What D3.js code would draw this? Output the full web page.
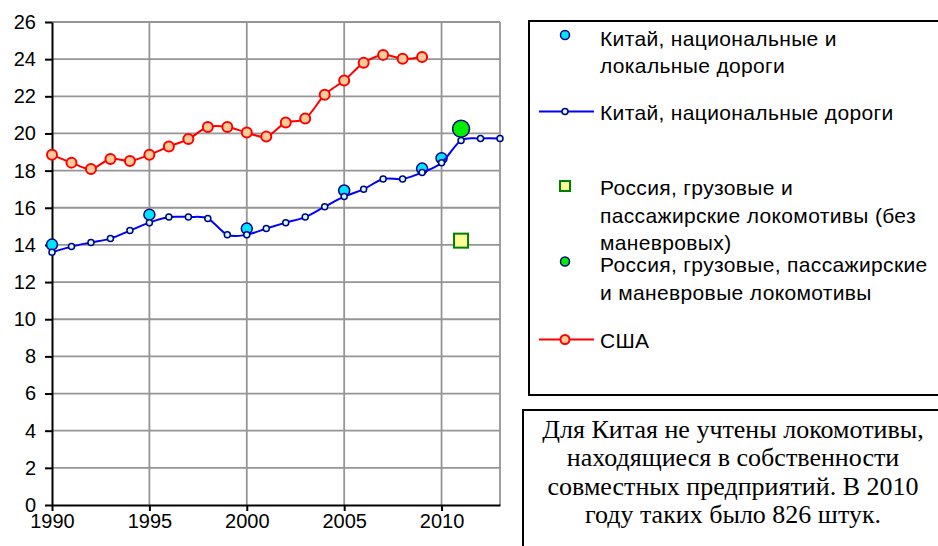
<!DOCTYPE html>
<html>
<head>
<meta charset="utf-8">
<script src="https://cdn.jsdelivr.net/npm/d3@7"></script>
<style>
  body { margin: 0; background: #fff; }
  svg { display: block; font-family: "Liberation Sans", Arial, sans-serif; }
</style>
</head>
<body>
<div id="chart"></div>
<script>
// data
var usaYears = [1990, 1991, 1992, 1993, 1994, 1995, 1996, 1997, 1998, 1999, 2000, 2001, 2002, 2003, 2004, 2005, 2006, 2007, 2008, 2009]
var usaValues = [18.85, 18.43, 18.09, 18.63, 18.52, 18.85, 19.3, 19.7, 20.35, 20.35, 20.05, 19.83, 20.59, 20.8, 22.08, 22.85, 23.8, 24.23, 24.02, 24.12]

var chinaYears = [1990, 1991, 1992, 1993, 1994, 1995, 1996, 1997, 1998, 1999, 2000, 2001, 2002, 2003, 2004, 2005, 2006, 2007, 2008, 2009, 2010, 2011, 2012, 2013]
var chinaNational = [13.6, 13.91, 14.13, 14.34, 14.77, 15.2, 15.5, 15.5, 15.42, 14.55, 14.55, 14.88, 15.2, 15.5, 16.06, 16.6, 17.0, 17.55, 17.55, 17.9, 18.42, 19.62, 19.73, 19.73]

var chinaAllYears = [1990, 1995, 2000, 2005, 2009, 2010]
var chinaAllValues = [14.02, 15.63, 14.88, 16.93, 18.11, 18.67]

var russiaYears = [2011]
var russiaNoShunting = [14.23]
var russiaAll = [20.25]

var xTicks = [1990, 1995, 2000, 2005, 2010]
var xGrid = [1995, 2000, 2005, 2010, 2013]
var yTicks = [0, 2, 4, 6, 8, 10, 12, 14, 16, 18, 20, 22, 24, 26]

var legendLabels = [
  ["Китай, национальные и", "локальные дороги"],
  ["Китай, национальные дороги"],
  ["Россия, грузовые и", "пассажирские локомотивы (без", "маневровых)"],
  ["Россия, грузовые, пассажирские", "и маневровые локомотивы"],
  ["США"]
]
var noteLines = [
  "Для Китая не учтены локомотивы,",
  "находящиеся в собственности",
  "совместных предприятий. В 2010",
  "году таких было 826 штук."
]

// SVG setup
var W = 938, H = 546
var plot = {left: 52, top: 22, right: 500, bottom: 505}

var svg = d3.select("#chart").append("svg")
    .attr("width", W)
    .attr("height", H)

var x = d3.scaleLinear().domain([1990, 2013]).range([plot.left, plot.right])
var y = d3.scaleLinear().domain([0, 26]).range([plot.bottom, plot.top])

// grid
svg.append("g").selectAll("line")
  .data(yTicks.slice(1))
  .enter().append("line")
  .attr("x1", plot.left).attr("x2", plot.right)
  .attr("y1", d => y(d)).attr("y2", d => y(d))
  .attr("stroke", "#959595").attr("stroke-width", 1.8)

svg.append("g").selectAll("line")
  .data(xGrid)
  .enter().append("line")
  .attr("x1", d => x(d)).attr("x2", d => x(d))
  .attr("y1", plot.top).attr("y2", plot.bottom)
  .attr("stroke", "#959595").attr("stroke-width", 1.8)

// axes
var yAxis = d3.axisLeft(y).tickValues(yTicks).tickSize(7).tickSizeOuter(0).tickPadding(9)
var xAxis = d3.axisBottom(x).tickValues(xTicks).tickFormat(d3.format("d"))
    .tickSize(6).tickSizeOuter(0).tickPadding(3)

var gy = svg.append("g").attr("transform", "translate(" + plot.left + ",0)").call(yAxis)
var gx = svg.append("g").attr("transform", "translate(0," + plot.bottom + ")").call(xAxis)

;[gx, gy].forEach(g => {
  g.select(".domain").attr("stroke", "#000").attr("stroke-width", 2)
  g.selectAll(".tick line").attr("stroke", "#000").attr("stroke-width", 2)
  g.selectAll(".tick text")
    .attr("fill", "#000")
    .style("font-family", "'Liberation Sans', Arial, sans-serif")
    .style("font-size", "20px")
})

var line = d3.line()
  .x(d => x(d[0]))
  .y(d => y(d[1]))
  .curve(d3.curveCardinal.tension(0))

// China national + local
svg.append("g").selectAll("circle")
  .data(d3.zip(chinaAllYears, chinaAllValues))
  .enter().append("circle")
  .attr("cx", d => x(d[0])).attr("cy", d => y(d[1]))
  .attr("r", 5.5)
  .attr("fill", "#00e5ff").attr("stroke", "#000080").attr("stroke-width", 1.5)

// Russia without shunting
svg.append("g").selectAll("rect")
  .data(d3.zip(russiaYears, russiaNoShunting))
  .enter().append("rect")
  .attr("x", d => x(d[0]) - 7).attr("y", d => y(d[1]) - 7)
  .attr("width", 14).attr("height", 14)
  .attr("fill", "#ffff99").attr("stroke", "#008000").attr("stroke-width", 2)

// Russia all
svg.append("g").selectAll("circle")
  .data(d3.zip(russiaYears, russiaAll))
  .enter().append("circle")
  .attr("cx", d => x(d[0])).attr("cy", d => y(d[1]))
  .attr("r", 8.5)
  .attr("fill", "#00ee00").attr("stroke", "#000080").attr("stroke-width", 1.5)

// China national
var chinaData = d3.zip(chinaYears, chinaNational)
svg.append("path")
  .datum(chinaData)
  .attr("d", line)
  .attr("fill", "none").attr("stroke", "#0000ff").attr("stroke-width", 2)
svg.append("g").selectAll("circle")
  .data(chinaData)
  .enter().append("circle")
  .attr("cx", d => x(d[0])).attr("cy", d => y(d[1]))
  .attr("r", 3)
  .attr("fill", "#ccffff").attr("stroke", "#000080").attr("stroke-width", 1.5)

// USA
var usaData = d3.zip(usaYears, usaValues)
svg.append("path")
  .datum(usaData)
  .attr("d", line)
  .attr("fill", "none").attr("stroke", "#ff0000").attr("stroke-width", 2)
svg.append("g").selectAll("circle")
  .data(usaData)
  .enter().append("circle")
  .attr("cx", d => x(d[0])).attr("cy", d => y(d[1]))
  .attr("r", 5)
  .attr("fill", "#ffcc99").attr("stroke", "#ff0000").attr("stroke-width", 2)

// legend
var lg = svg.append("g")
lg.append("rect")
  .attr("x", 529).attr("y", 21).attr("width", 420).attr("height", 374)
  .attr("fill", "#fff").attr("stroke", "#000").attr("stroke-width", 2)

var legendY = [45.5, 120, 195, 272, 348]   // first baseline of each item
var markerY = [35, 111.5, 186, 261.5, 339.5]
var lineGap = 27.5

legendLabels.forEach((lines, i) => {
  lines.forEach((t, j) => {
    lg.append("text")
      .attr("x", 600).attr("y", legendY[i] + j * lineGap)
      .attr("font-size", "21px").attr("letter-spacing", "0.35px").attr("fill", "#000")
      .text(t)
  })
})

// legend symbols
lg.append("circle").attr("cx", 565).attr("cy", markerY[0]).attr("r", 4.5)
  .attr("fill", "#00e5ff").attr("stroke", "#000080").attr("stroke-width", 1.5)
lg.append("line").attr("x1", 539).attr("x2", 594).attr("y1", markerY[1]).attr("y2", markerY[1])
  .attr("stroke", "#0000ff").attr("stroke-width", 2)
lg.append("circle").attr("cx", 565).attr("cy", markerY[1]).attr("r", 3)
  .attr("fill", "#ccffff").attr("stroke", "#000080").attr("stroke-width", 1.5)
lg.append("rect").attr("x", 560).attr("y", markerY[2] - 5).attr("width", 10).attr("height", 10)
  .attr("fill", "#ffff99").attr("stroke", "#008000").attr("stroke-width", 2)
lg.append("circle").attr("cx", 565).attr("cy", markerY[3]).attr("r", 4.5)
  .attr("fill", "#00ee00").attr("stroke", "#000080").attr("stroke-width", 1.5)
lg.append("line").attr("x1", 539).attr("x2", 594).attr("y1", markerY[4]).attr("y2", markerY[4])
  .attr("stroke", "#ff0000").attr("stroke-width", 2)
lg.append("circle").attr("cx", 565).attr("cy", markerY[4]).attr("r", 4.5)
  .attr("fill", "#ffcc99").attr("stroke", "#ff0000").attr("stroke-width", 2)

// note box
var nb = svg.append("g")
nb.append("rect")
  .attr("x", 523).attr("y", 410).attr("width", 430).attr("height", 150)
  .attr("fill", "#fff").attr("stroke", "#000").attr("stroke-width", 2)
noteLines.forEach((t, i) => {
  nb.append("text")
    .attr("x", 733).attr("y", 437.5 + i * 28.5)
    .attr("text-anchor", "middle")
    .style("font-family", "'Liberation Serif', 'Times New Roman', serif")
    .attr("font-size", "26px").attr("fill", "#000")
    .text(t)
})
</script>
</body>
</html>
